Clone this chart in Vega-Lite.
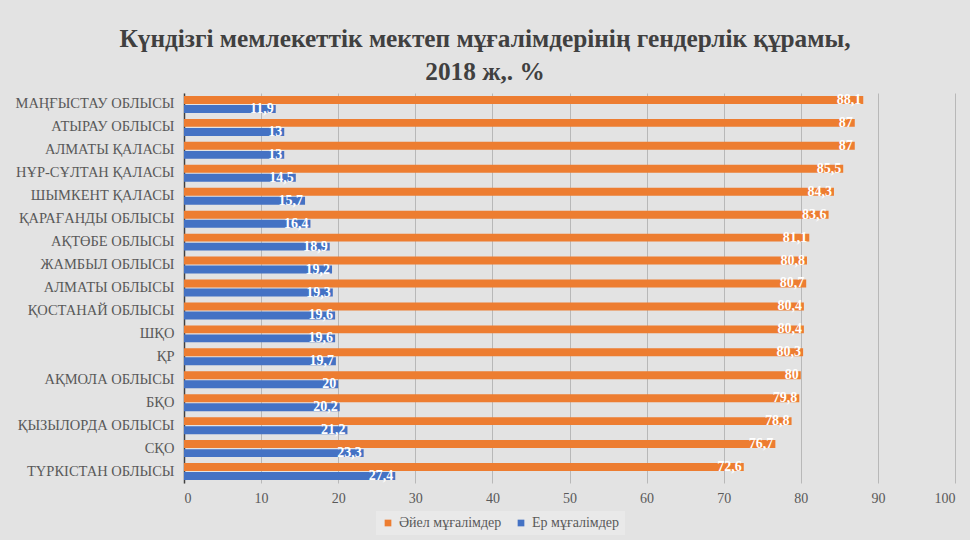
{
  "$schema": "https://vega.github.io/schema/vega-lite/v6.json",
  "description": "Gender composition of daytime state school teachers, 2018.",
  "width": 771,
  "height": 390,
  "autosize": {"type": "none"},
  "padding": {"left": 184, "top": 93, "right": 15, "bottom": 57},
  "background": "#e3e3e3",
  "title": {
    "text": ["Күндізгі мемлекеттік мектеп мұғалімдерінің гендерлік құрамы,", "2018 ж,. %"],
    "anchor": "middle",
    "frame": "bounds",
    "font": "Liberation Serif",
    "fontSize": 25.3,
    "fontWeight": "bold",
    "color": "#404040",
    "lineHeight": 33,
    "offset": 8
  },
  "data": {
    "values": [
      {"region": "МАҢҒЫСТАУ ОБЛЫСЫ", "series": "Әйел мұғалімдер", "value": 88.1},
      {"region": "МАҢҒЫСТАУ ОБЛЫСЫ", "series": "Ер мұғалімдер", "value": 11.9},
      {"region": "АТЫРАУ ОБЛЫСЫ", "series": "Әйел мұғалімдер", "value": 87},
      {"region": "АТЫРАУ ОБЛЫСЫ", "series": "Ер мұғалімдер", "value": 13},
      {"region": "АЛМАТЫ ҚАЛАСЫ", "series": "Әйел мұғалімдер", "value": 87},
      {"region": "АЛМАТЫ ҚАЛАСЫ", "series": "Ер мұғалімдер", "value": 13},
      {"region": "НҰР-СҰЛТАН ҚАЛАСЫ", "series": "Әйел мұғалімдер", "value": 85.5},
      {"region": "НҰР-СҰЛТАН ҚАЛАСЫ", "series": "Ер мұғалімдер", "value": 14.5},
      {"region": "ШЫМКЕНТ ҚАЛАСЫ", "series": "Әйел мұғалімдер", "value": 84.3},
      {"region": "ШЫМКЕНТ ҚАЛАСЫ", "series": "Ер мұғалімдер", "value": 15.7},
      {"region": "ҚАРАҒАНДЫ ОБЛЫСЫ", "series": "Әйел мұғалімдер", "value": 83.6},
      {"region": "ҚАРАҒАНДЫ ОБЛЫСЫ", "series": "Ер мұғалімдер", "value": 16.4},
      {"region": "АҚТӨБЕ ОБЛЫСЫ", "series": "Әйел мұғалімдер", "value": 81.1},
      {"region": "АҚТӨБЕ ОБЛЫСЫ", "series": "Ер мұғалімдер", "value": 18.9},
      {"region": "ЖАМБЫЛ ОБЛЫСЫ", "series": "Әйел мұғалімдер", "value": 80.8},
      {"region": "ЖАМБЫЛ ОБЛЫСЫ", "series": "Ер мұғалімдер", "value": 19.2},
      {"region": "АЛМАТЫ ОБЛЫСЫ", "series": "Әйел мұғалімдер", "value": 80.7},
      {"region": "АЛМАТЫ ОБЛЫСЫ", "series": "Ер мұғалімдер", "value": 19.3},
      {"region": "ҚОСТАНАЙ ОБЛЫСЫ", "series": "Әйел мұғалімдер", "value": 80.4},
      {"region": "ҚОСТАНАЙ ОБЛЫСЫ", "series": "Ер мұғалімдер", "value": 19.6},
      {"region": "ШҚО", "series": "Әйел мұғалімдер", "value": 80.4},
      {"region": "ШҚО", "series": "Ер мұғалімдер", "value": 19.6},
      {"region": "ҚР", "series": "Әйел мұғалімдер", "value": 80.3},
      {"region": "ҚР", "series": "Ер мұғалімдер", "value": 19.7},
      {"region": "АҚМОЛА ОБЛЫСЫ", "series": "Әйел мұғалімдер", "value": 80},
      {"region": "АҚМОЛА ОБЛЫСЫ", "series": "Ер мұғалімдер", "value": 20},
      {"region": "БҚО", "series": "Әйел мұғалімдер", "value": 79.8},
      {"region": "БҚО", "series": "Ер мұғалімдер", "value": 20.2},
      {"region": "ҚЫЗЫЛОРДА ОБЛЫСЫ", "series": "Әйел мұғалімдер", "value": 78.8},
      {"region": "ҚЫЗЫЛОРДА ОБЛЫСЫ", "series": "Ер мұғалімдер", "value": 21.2},
      {"region": "СҚО", "series": "Әйел мұғалімдер", "value": 76.7},
      {"region": "СҚО", "series": "Ер мұғалімдер", "value": 23.3},
      {"region": "ТҮРКІСТАН ОБЛЫСЫ", "series": "Әйел мұғалімдер", "value": 72.6},
      {"region": "ТҮРКІСТАН ОБЛЫСЫ", "series": "Ер мұғалімдер", "value": 27.4}
    ]
  },
  "transform": [
    {"calculate": "replace(toString(datum.value), '.', ',')", "as": "label"}
  ],
  "encoding": {
    "y": {
      "field": "region",
      "type": "nominal",
      "sort": null,
      "title": null,
      "scale": {"paddingInner": 0.26, "paddingOuter": 0.13},
      "axis": {
        "labelFont": "Liberation Serif",
        "labelFontSize": 14.5,
        "labelColor": "#595959",
        "labelPadding": 10,
        "ticks": false,
        "domainColor": "#404040",
        "domainWidth": 1.5
      }
    },
    "yOffset": {
      "field": "series",
      "type": "nominal",
      "sort": ["Әйел мұғалімдер", "Ер мұғалімдер"],
      "scale": {"paddingInner": 0.12}
    },
    "x": {
      "field": "value",
      "type": "quantitative",
      "title": null,
      "scale": {"domain": [0, 100]},
      "axis": {
        "values": [0, 10, 20, 30, 40, 50, 60, 70, 80, 90, 100],
        "labelFont": "Liberation Serif",
        "labelFontSize": 14,
        "labelColor": "#595959",
        "labelPadding": 8,
        "ticks": false,
        "domain": false,
        "gridColor": "#b8b8b8",
        "gridWidth": 1
      }
    }
  },
  "layer": [
    {
      "mark": {"type": "bar"},
      "encoding": {
        "color": {
          "field": "series",
          "type": "nominal",
          "sort": ["Әйел мұғалімдер", "Ер мұғалімдер"],
          "scale": {"range": ["#ED7D31", "#4472C4"]},
          "legend": {
            "title": null,
            "orient": "none",
            "direction": "horizontal",
            "legendX": 192,
            "legendY": 418,
            "symbolType": "square",
            "symbolSize": 45,
            "symbolStrokeWidth": 0,
            "labelFont": "Liberation Serif",
            "labelFontSize": 14,
            "labelColor": "#595959",
            "columnPadding": 12,
            "fillColor": "#e9e9e9",
            "padding": 5
          }
        }
      }
    },
    {
      "mark": {
        "type": "text",
        "align": "right",
        "baseline": "middle",
        "dx": -2,
        "font": "Liberation Serif",
        "fontSize": 14,
        "fontWeight": "bold",
        "color": "white"
      },
      "encoding": {
        "text": {"field": "label", "type": "nominal"}
      }
    }
  ],
  "config": {
    "font": "Liberation Serif",
    "view": {"stroke": null}
  }
}
